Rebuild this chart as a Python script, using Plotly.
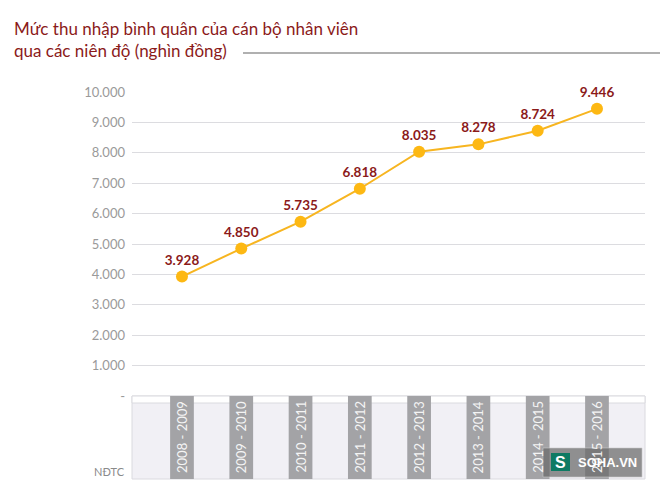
import plotly.graph_objects as go

categories = ["2008 - 2009", "2009 - 2010", "2010 - 2011", "2011 - 2012",
              "2012 - 2013", "2013 - 2014", "2014 - 2015", "2015 - 2016"]
income = [3928, 4850, 5735, 6818, 8035, 8278, 8724, 9446]
ytick_vals = [0, 1000, 2000, 3000, 4000, 5000, 6000, 7000, 8000, 9000, 10000]
ytick_text = ["-", "1.000", "2.000", "3.000", "4.000", "5.000", "6.000",
              "7.000", "8.000", "9.000", "10.000"]

W, H = 660, 491
L, R, T, B = 132, 15, 92, 95
pw, ph = W - L - R, H - T - B

def px(x):
    return (x - L) / pw

def py(y):
    return (H - B - y) / ph

def fmt(v):
    return f"{v:,}".replace(",", ".")

idx = list(range(len(categories)))
fig = go.Figure()
fig.add_trace(go.Scatter(
    x=idx, y=income, mode="lines+markers+text",
    line=dict(color="#F7B520", width=2),
    marker=dict(color="#FDB813", size=12),
    text=[fmt(v) for v in income], textposition="top center",
    textfont=dict(family="Lato", size=13.5, color="#8B1A1A", weight="bold"),
    cliponaxis=False, hoverinfo="skip"))

shapes = []
# bottom band
shapes.append(dict(type="rect", xref="paper", yref="paper", x0=0, x1=1,
                   y0=py(479), y1=0, fillcolor="#F1F0F5",
                   line=dict(color="#DADADF", width=1), layer="below"))
shapes.append(dict(type="rect", xref="paper", yref="paper", x0=0, x1=1,
                   y0=py(403), y1=0, fillcolor="#FFFFFF",
                   line=dict(color="#DADADF", width=1), layer="below"))
for i in idx:
    shapes.append(dict(type="rect", xref="x", yref="paper", x0=i - 0.2, x1=i + 0.2,
                       y0=py(479), y1=0, fillcolor="#A3A3A6",
                       line=dict(width=0), layer="below"))
# title underline
shapes.append(dict(type="line", xref="paper", yref="paper", x0=px(243), x1=px(660),
                   y0=py(53), y1=py(53), line=dict(color="#B0B0B0", width=2)))
# watermark box and logo square
shapes.append(dict(type="rect", xref="paper", yref="paper", x0=px(543), x1=px(642),
                   y0=py(477), y1=py(448), fillcolor="rgba(105,105,105,0.72)",
                   line=dict(color="rgba(200,200,200,0.6)", width=1), layer="above"))
shapes.append(dict(type="rect", xref="paper", yref="paper", x0=px(551), x1=px(570),
                   y0=py(471), y1=py(453), fillcolor="#0E7A63",
                   line=dict(width=0), layer="above"))

annotations = []
annotations.append(dict(xref="paper", yref="paper", x=px(12), y=py(16),
                        xanchor="left", yanchor="top", align="left", showarrow=False,
                        text="Mức thu nhập bình quân của cán bộ nhân viên<br>qua các niên độ (nghìn đồng)",
                        font=dict(family="Lato", size=17, color="#8B1A1A")))
for i, c in zip(idx, categories):
    annotations.append(dict(xref="x", yref="paper", x=i, y=py(437), textangle=-90,
                            xanchor="center", yanchor="middle",
                            showarrow=False, text=c,
                            font=dict(family="Lato", size=13, color="#F4F4F4")))
annotations.append(dict(xref="paper", yref="paper", x=px(127), y=py(471),
                        xanchor="right", yanchor="middle", showarrow=False, text="NĐTC",
                        font=dict(family="Lato", size=11, color="#8A8A8A")))
annotations.append(dict(xref="paper", yref="paper", x=px(560.5), y=py(462),
                        xanchor="center", yanchor="middle", showarrow=False, text="S",
                        font=dict(family="Liberation Sans", size=16, color="#FFFFFF", weight="bold")))
annotations.append(dict(xref="paper", yref="paper", x=px(576), y=py(462.5),
                        xanchor="left", yanchor="middle", showarrow=False, text="SOHA.VN",
                        font=dict(family="Liberation Sans", size=13, color="#FFFFFF", weight="bold")))

fig.update_layout(
    width=W, height=H, margin=dict(l=L, r=R, t=T, b=B),
    paper_bgcolor="white", plot_bgcolor="white", showlegend=False,
    xaxis=dict(range=[-0.843, 7.81], showticklabels=False, showgrid=False,
               zeroline=False, fixedrange=True),
    yaxis=dict(range=[0, 10000], tickvals=ytick_vals, ticktext=ytick_text,
               showgrid=True, gridcolor="#DCDCE0", gridwidth=1, zeroline=False,
               ticks="", ticklabelstandoff=6,
               tickfont=dict(family="Lato", size=13, color="#9A9A9A")),
    shapes=shapes, annotations=annotations,
)
fig.write_html("out.html")
